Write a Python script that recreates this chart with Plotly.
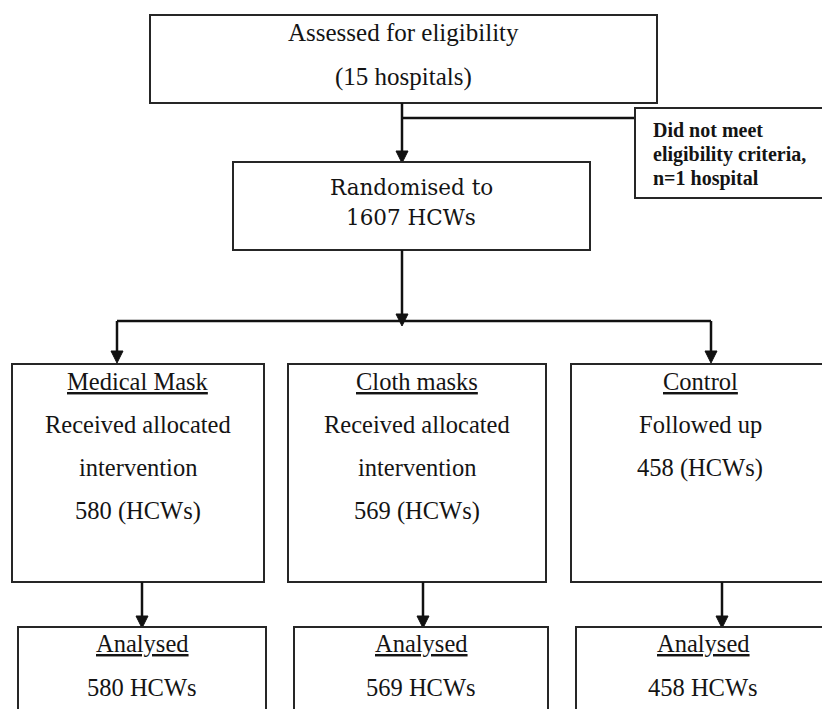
import plotly.graph_objects as go

# ---- data ----
hospitals_assessed = 15
hospitals_excluded = 1
randomised_hcws = 1607
arm_names = ["Medical Mask", "Cloth masks", "Control"]
arm_status = [["Received allocated", "intervention"],
              ["Received allocated", "intervention"],
              ["Followed up"]]
arm_allocated = [580, 569, 458]
arm_analysed = [580, 569, 458]

W, H = 822, 709
fig = go.Figure()

BOX_COL = "#262626"
ARR_COL = "#111111"
TXT_COL = "#141414"
SERIF = "Liberation Serif"

shapes = []
annos = []


def box(x0, y0, x1, y1, open_right=False, open_bottom=False):
    if open_right or open_bottom:
        xr = W + 20 if open_right else x1
        yb = H + 20 if open_bottom else y1
        if open_bottom and not open_right:
            p = f"M {x0},{yb} L {x0},{y0} L {x1},{y0} L {x1},{yb}"
        elif open_right and not open_bottom:
            p = f"M {xr},{y0} L {x0},{y0} L {x0},{y1} L {xr},{y1}"
        else:
            p = f"M {xr},{y0} L {x0},{y0} L {x0},{yb}"
        shapes.append(dict(type="path", xref="x", yref="y", path=p,
                           line=dict(color=BOX_COL, width=2), layer="above"))
        return
    shapes.append(dict(type="rect", xref="x", yref="y", x0=x0, y0=y0, x1=x1, y1=y1,
                       line=dict(color=BOX_COL, width=2), fillcolor="rgba(0,0,0,0)", layer="above"))


def line(x0, y0, x1, y1):
    shapes.append(dict(type="line", xref="x", yref="y", x0=x0, y0=y0, x1=x1, y1=y1,
                       line=dict(color=ARR_COL, width=2.5), layer="above"))


def arrow_down(x, y0, y1, hw=6, hl=12):
    line(x, y0, x, y1 - hl + 1)
    shapes.append(dict(type="path", xref="x", yref="y",
                       path=f"M {x-hw},{y1-hl} L {x+hw},{y1-hl} L {x},{y1} Z",
                       fillcolor=ARR_COL, line=dict(color=ARR_COL, width=1), layer="above"))


def text(x, y, s, size=24.5, family=SERIF, anchor="center"):
    annos.append(dict(x=x, y=y, xref="x", yref="y", text=s, showarrow=False,
                      xanchor=anchor, yanchor="middle",
                      font=dict(family=family, size=size, color=TXT_COL)))


# top box
box(150, 15, 657, 103)
text(403, 32, "Assessed for eligibility", size=25)
text(403, 77, f"({hospitals_assessed} hospitals)", size=25)

# exclusion
line(402, 118, 635, 118)
box(635, 108, None, 198, open_right=True)
for i, s in enumerate(["Did not meet", "eligibility criteria,", f"n={hospitals_excluded} hospital"]):
    text(651, 130 + 24 * i, f"<b>{s}</b>", size=20, anchor="left")

# randomised
arrow_down(402, 103, 163)
box(233, 162, 590, 250)
text(411, 187, "Randomised to", size=21.5, family="DejaVu Serif")
text(411, 217, f"{randomised_hcws} HCWs", size=21.5, family="DejaVu Serif")

# branch
line(402, 250, 402, 312)
arrow_down(402, 312, 326)
line(117, 321, 711, 321)
arrow_down(117, 321, 363)
arrow_down(711, 321, 363)

# arm boxes
arm_boxes = [(12, 264), (288, 546), (571, None)]
arm_cx = [138, 417, 700]
drop_x = [142, 423, 722]
ana_boxes = [(18, 266), (294, 548), (576, None)]
ana_cx = [142, 421, 703]

for i in range(3):
    x0, x1 = arm_boxes[i]
    box(x0, 364, x1, 582, open_right=(x1 is None))
    text(arm_cx[i], 381, f"<u>{arm_names[i]}</u>")
    lines = arm_status[i] + [f"{arm_allocated[i]} (HCWs)"]
    for j, s in enumerate(lines):
        text(arm_cx[i], 424 + 43.5 * j, s)
    arrow_down(drop_x[i], 582, 628)
    a0, a1 = ana_boxes[i]
    box(a0, 627, a1, None, open_right=(a1 is None), open_bottom=True)
    text(ana_cx[i], 643, "<u>Analysed</u>")
    text(ana_cx[i], 687, f"{arm_analysed[i]} HCWs")

fig.update_layout(
    width=W, height=H,
    margin=dict(l=0, r=0, t=0, b=0),
    paper_bgcolor="white", plot_bgcolor="white",
    xaxis=dict(range=[0, W], visible=False, fixedrange=True),
    yaxis=dict(range=[H, 0], visible=False, fixedrange=True),
    shapes=shapes, annotations=annos, showlegend=False,
)

fig.write_html(
    "out.html",
    config={"displayModeBar": False},
    post_script="document.body.style.margin='0px';document.body.style.overflow='hidden';",
)
